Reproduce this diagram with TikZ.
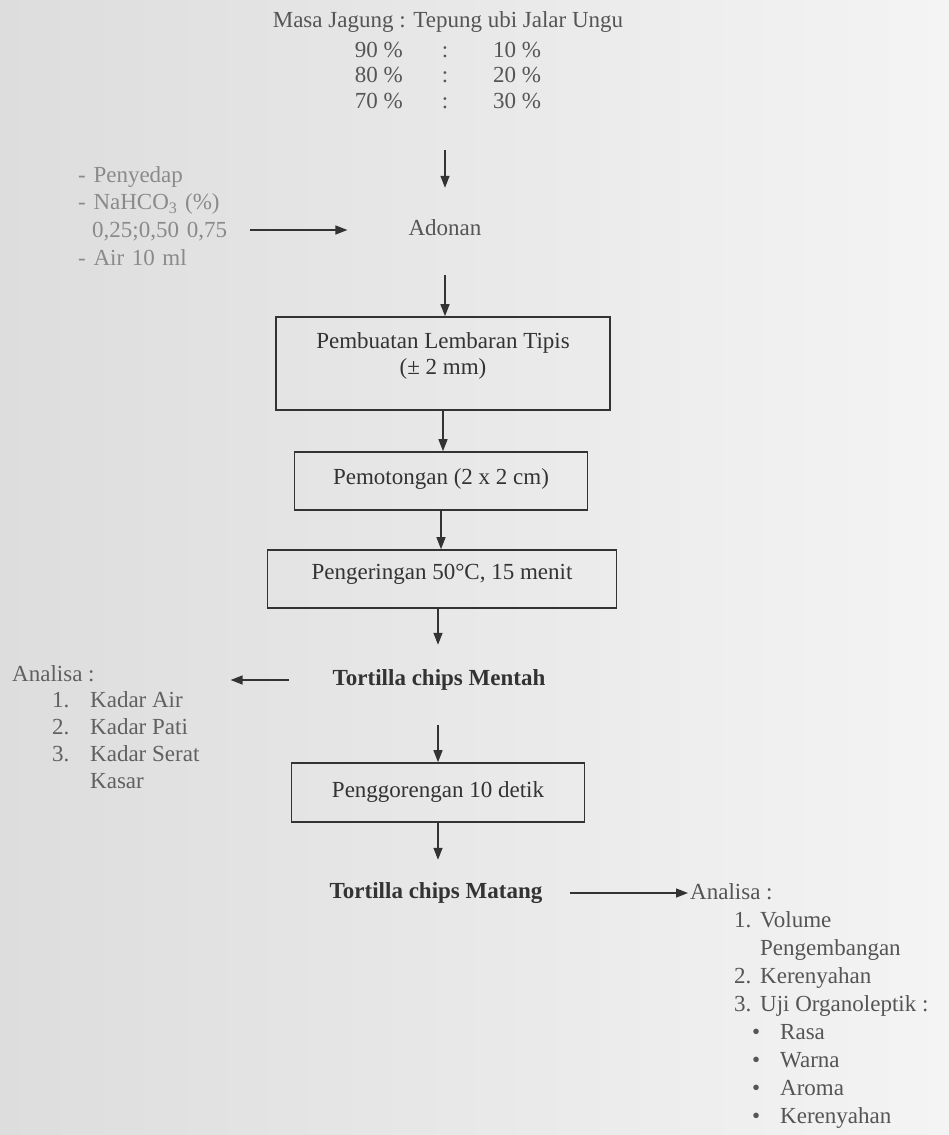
\documentclass[tikz,border=0pt]{standalone}
\usepackage{fontspec}
\setmainfont{Liberation Serif}
\usetikzlibrary{arrows.meta}
\definecolor{ink}{HTML}{333333}
\definecolor{mid}{HTML}{555555}
\definecolor{faded}{HTML}{8A8A8A}
\definecolor{soft}{HTML}{606060}
\definecolor{linec}{HTML}{333333}
\definecolor{bgl}{HTML}{DDDDDD}
\definecolor{bgr}{HTML}{F4F4F4}
\newcommand\myfs{\fontsize{23}{26}\selectfont}
\begin{document}
\begin{tikzpicture}[x=1pt,y=-1pt,
  txt/.style={inner sep=0pt, text height=16pt, text depth=5pt, font=\myfs, text=ink},
  stepbox/.style={draw=linec, line width=1.6pt, inner sep=0pt, align=center, font=\myfs, text=ink},
  listtxt/.style={inner sep=0pt, align=left, anchor=base west, text=ink},
  arr/.style={draw=linec, line width=1.3pt, -{Triangle[length=12pt,width=9pt]}}]
\shade[left color=bgl, right color=bgr] (0,0) rectangle (949,1135);
\useasboundingbox (0,0) rectangle (949,1135);

% top ratios
\node[txt, text=mid] (title) at (448,22) {Masa Jagung : Tepung ubi Jalar Ungu};
\node[txt, text=mid, anchor=east] (l90) at (403,52) {90 \%};
\node[txt, text=mid] (c90) at (445,52) {:};
\node[txt, text=mid, anchor=west] (r90) at (493,52) {10 \%};
\node[txt, text=mid, anchor=east] (l80) at (403,77) {80 \%};
\node[txt, text=mid] (c80) at (445,77) {:};
\node[txt, text=mid, anchor=west] (r80) at (493,77) {20 \%};
\node[txt, text=mid, anchor=east] (l70) at (403,103) {70 \%};
\node[txt, text=mid] (c70) at (445,103) {:};
\node[txt, text=mid, anchor=west] (r70) at (493,103) {30 \%};

% inputs
\node[listtxt, text=faded, font=\fontsize{23}{27.7}\selectfont, text width=150pt] (inputs) at (78,182)
  {- Penyedap\\- NaHCO\textsubscript{3} (\%)\\\hspace*{14pt}0,25;0,50 0,75\\- Air 10 ml};

\node[txt, text=mid] (adonan) at (445,230) {Adonan};

% boxes
\node[stepbox, minimum width=334pt, minimum height=93pt] (b1) at (443,363.5)
  {Pembuatan Lembaran Tipis\\(± 2 mm)\rule[-19pt]{0pt}{0pt}};
\node[stepbox, minimum width=293pt, minimum height=58pt] (b2) at (441,481)
  {Pemotongan (2 x 2 cm)\rule[-8pt]{0pt}{0pt}};
\node[stepbox, minimum width=349pt, minimum height=58pt] (b3) at (442,579)
  {Pengeringan 50°C, 15 menit\rule[-14pt]{0pt}{0pt}};
\node[txt, font=\myfs\bfseries, text=ink] (mentah) at (439,680) {Tortilla chips Mentah};
\node[stepbox, minimum width=293pt, minimum height=59pt] (b4) at (438,792.5)
  {Penggorengan 10 detik\rule[-6pt]{0pt}{0pt}};
\node[txt, font=\myfs\bfseries, text=ink] (matang) at (436,893) {Tortilla chips Matang};

% analysis lists (anchor = baseline of last line)
\node[listtxt, text=soft, font=\fontsize{23}{26.75}\selectfont] (anaL) at (12,788)
  {Analisa :\\
   \hspace*{40pt}\makebox[38pt][l]{1.}Kadar Air\\
   \hspace*{40pt}\makebox[38pt][l]{2.}Kadar Pati\\
   \hspace*{40pt}\makebox[38pt][l]{3.}Kadar Serat\\
   \hspace*{78pt}Kasar};
\node[listtxt, text=mid, font=\fontsize{23}{28}\selectfont] (anaR) at (690,1123)
  {Analisa :\\
   \hspace*{44pt}\makebox[26pt][l]{1.}Volume\\
   \hspace*{70pt}Pengembangan\\
   \hspace*{44pt}\makebox[26pt][l]{2.}Kerenyahan\\
   \hspace*{44pt}\makebox[26pt][l]{3.}Uji Organoleptik :\\
   \hspace*{62pt}\makebox[28pt][l]{\textbullet}Rasa\\
   \hspace*{62pt}\makebox[28pt][l]{\textbullet}Warna\\
   \hspace*{62pt}\makebox[28pt][l]{\textbullet}Aroma\\
   \hspace*{62pt}\makebox[28pt][l]{\textbullet}Kerenyahan};

% vertical connectors
\draw[arr, shorten <=36.5pt, shorten >=31.5pt] (c70.south) -- (c70.south |- adonan.north);
\draw[arr, shorten <=34.5pt] (adonan.south) -- (adonan.south |- b1.north);
\draw[arr] (b1.south) -- (b1.south |- b2.north);
\draw[arr] (b2.south) -- (b2.south |- b3.north);
\draw[arr, shorten >=24.5pt] (b3.south -| b4.north) -- (b4.north |- mentah.north);
\draw[arr, shorten <=34.5pt] (b4.north |- mentah.south) -- (b4.north);
\draw[arr, shorten >=22.5pt] (b4.south) -- (b4.south |- matang.north);

% horizontal connectors
\draw[arr, shorten <=22pt, shorten >=61pt] (inputs.east |- adonan.west) -- (adonan.west);
\draw[arr, shorten <=44pt, shorten >=31pt] (mentah.west) -- (mentah.west -| anaL.east);
\draw[arr, shorten <=28pt, shorten >=2pt] (matang.east) -- (matang.east -| anaR.west);
\end{tikzpicture}
\end{document}
